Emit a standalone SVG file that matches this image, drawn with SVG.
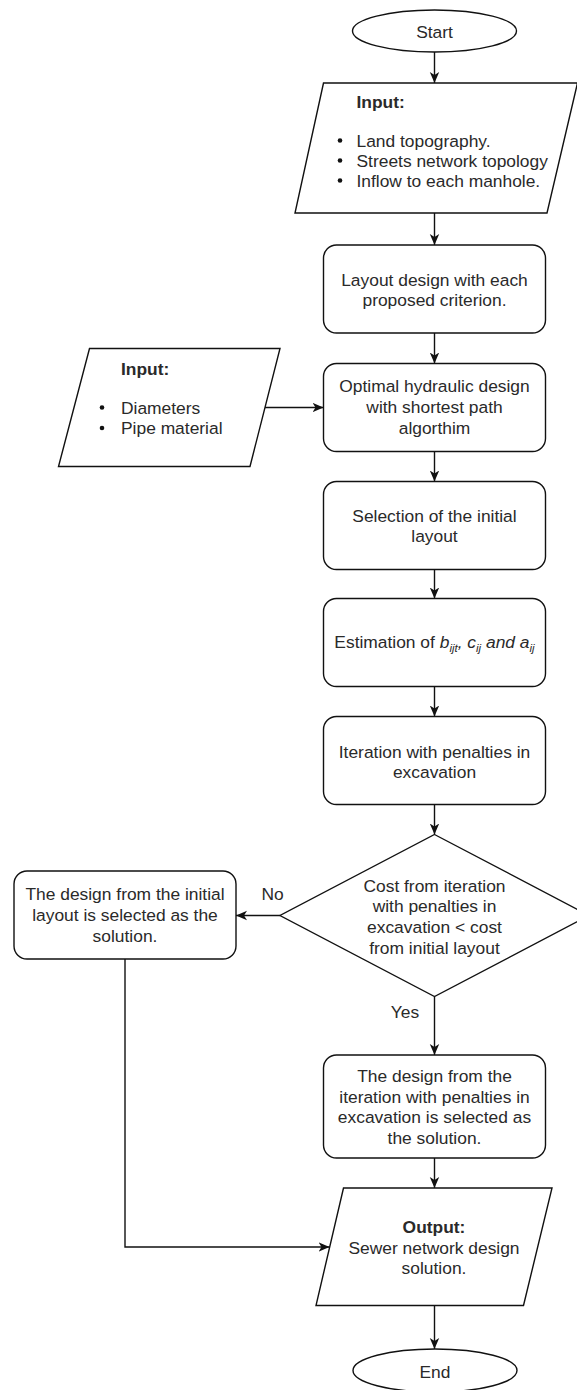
<svg xmlns="http://www.w3.org/2000/svg" width="577" height="1390" viewBox="0 0 577 1390">
<defs>
<style>
.s{fill:#fff;stroke:#111;stroke-width:1.4}
.c{fill:none;stroke:#111;stroke-width:1.4}
.t{font-family:"Liberation Sans",Arial,sans-serif;font-size:17.4px;fill:#2a2a2a}
.m{text-anchor:middle}
.b{font-weight:bold}
.dot{fill:#111}
</style>
<marker id="arr" viewBox="0 0 11 11" refX="11" refY="5.5" markerWidth="11" markerHeight="11" markerUnits="userSpaceOnUse" orient="auto">
<path d="M0,0.8 L11,5.5 L0,10.2 L3,5.5 z" fill="#111"/>
</marker>
</defs>
<rect width="577" height="1390" fill="#fff"/>

<g id="connectors" class="c" marker-end="url(#arr)">
<line x1="434.5" y1="52" x2="434.5" y2="83"/>
<line x1="434.5" y1="213" x2="434.5" y2="245"/>
<line x1="434.5" y1="333" x2="434.5" y2="363.5"/>
<line x1="265" y1="407.5" x2="323.5" y2="407.5"/>
<line x1="434.5" y1="451.5" x2="434.5" y2="481.5"/>
<line x1="434.5" y1="569.5" x2="434.5" y2="598.5"/>
<line x1="434.5" y1="686.5" x2="434.5" y2="716.5"/>
<line x1="434.5" y1="804.5" x2="434.5" y2="834.5"/>
<line x1="280" y1="915.5" x2="236" y2="915.5"/>
<line x1="434.5" y1="996.5" x2="434.5" y2="1055"/>
<line x1="434.5" y1="1158" x2="434.5" y2="1188"/>
<polyline points="125,959 125,1247 329.5,1247"/>
<line x1="434.5" y1="1305.5" x2="434.5" y2="1349"/>
</g>

<g id="start">
<ellipse class="s" cx="434.5" cy="31" rx="82" ry="21"/>
<text class="t m" x="434.5" y="38">Start</text>
</g>

<g id="input1">
<polygon class="s" points="323.5,83 577.5,83 547,213 295,213"/>
<text class="t b" x="356.5" y="108">Input:</text>
<circle class="dot" cx="340" cy="140.5" r="2.3"/>
<circle class="dot" cx="340" cy="160.5" r="2.3"/>
<circle class="dot" cx="340" cy="180.5" r="2.3"/>
<text class="t" x="356.5" y="146.7">Land topography.</text>
<text class="t" x="356.5" y="166.7">Streets network topology</text>
<text class="t" x="356.5" y="186.7">Inflow to each manhole.</text>
</g>

<g id="layout">
<rect class="s" x="323.5" y="245" width="222" height="88" rx="13"/>
<text class="t m" x="434.5" y="285.5">Layout design with each</text>
<text class="t m" x="434.5" y="306">proposed criterion.</text>
</g>

<g id="input2">
<polygon class="s" points="89.5,348.5 280,348.5 250,466.5 58.5,466.5"/>
<text class="t b" x="121" y="375">Input:</text>
<circle class="dot" cx="102" cy="407.5" r="2.3"/>
<circle class="dot" cx="102" cy="428" r="2.3"/>
<text class="t" x="121" y="413.5">Diameters</text>
<text class="t" x="121" y="434">Pipe material</text>
</g>

<g id="optimal">
<rect class="s" x="323.5" y="363.5" width="222" height="88" rx="13"/>
<text class="t m" x="434.5" y="392">Optimal hydraulic design</text>
<text class="t m" x="434.5" y="412.8">with shortest path</text>
<text class="t m" x="434.5" y="433.6">algorthim</text>
</g>

<g id="selection">
<rect class="s" x="323.5" y="481.5" width="222" height="88" rx="13"/>
<text class="t m" x="434.5" y="521.5">Selection of the initial</text>
<text class="t m" x="434.5" y="542.3">layout</text>
</g>

<g id="estimation">
<rect class="s" x="323.5" y="598.5" width="222" height="88" rx="13"/>
<text class="t m" x="434.5" y="647.5">Estimation of <tspan font-style="italic">b</tspan><tspan font-style="italic" font-size="11.5" dy="4">ijt</tspan><tspan font-style="italic" dy="-4">, c</tspan><tspan font-style="italic" font-size="11.5" dy="4">ij</tspan><tspan font-style="italic" dy="-4"> and a</tspan><tspan font-style="italic" font-size="11.5" dy="4">ij</tspan></text>
</g>

<g id="iteration">
<rect class="s" x="323.5" y="716.5" width="222" height="88" rx="13"/>
<text class="t m" x="434.5" y="757.5">Iteration with penalties in</text>
<text class="t m" x="434.5" y="778.3">excavation</text>
</g>

<g id="decision">
<polygon class="s" points="434.5,834.5 589,915.5 434.5,996.5 280,915.5"/>
<text class="t m" x="434.5" y="891.8">Cost from iteration</text>
<text class="t m" x="434.5" y="912.4">with penalties in</text>
<text class="t m" x="434.5" y="933">excavation &lt; cost</text>
<text class="t m" x="434.5" y="953.6">from initial layout</text>
</g>

<g id="labels">
<text class="t m" x="272.5" y="900">No</text>
<text class="t m" x="405" y="1017.5">Yes</text>
</g>

<g id="initial-solution">
<rect class="s" x="14" y="871" width="222" height="88" rx="13"/>
<text class="t m" x="125" y="900">The design from the initial</text>
<text class="t m" x="125" y="920.8">layout is selected as the</text>
<text class="t m" x="125" y="941.6">solution.</text>
</g>

<g id="penalty-solution">
<rect class="s" x="323.5" y="1055" width="222" height="103" rx="13"/>
<text class="t m" x="434.5" y="1081.7">The design from the</text>
<text class="t m" x="434.5" y="1102.5">iteration with penalties in</text>
<text class="t m" x="434.5" y="1123.3">excavation is selected as</text>
<text class="t m" x="434.5" y="1144.1">the solution.</text>
</g>

<g id="output">
<polygon class="s" points="343.5,1188 552,1188 523.5,1305.5 316,1305.5"/>
<text class="t m b" x="434" y="1233.3">Output:</text>
<text class="t m" x="434" y="1253.5">Sewer network design</text>
<text class="t m" x="434" y="1273.7">solution.</text>
</g>

<g id="end">
<ellipse class="s" cx="435" cy="1370.5" rx="82" ry="21.5"/>
<text class="t m" x="435" y="1378">End</text>
</g>
</svg>
